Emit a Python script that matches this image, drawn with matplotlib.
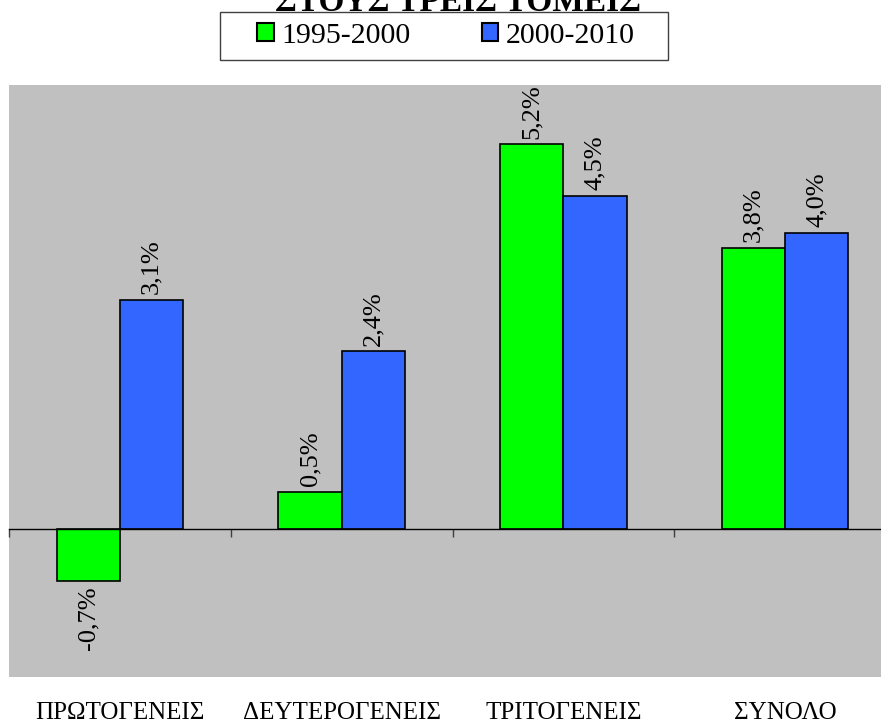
import numpy as np
import matplotlib.pyplot as plt
from matplotlib.patches import Rectangle

categories = ['ΠΡΩΤΟΓΕΝΕΙΣ', 'ΔΕΥΤΕΡΟΓΕΝΕΙΣ', 'ΤΡΙΤΟΓΕΝΕΙΣ', 'ΣΥΝΟΛΟ']
series_names = ['1995-2000', '2000-2010']
v_1995_2000 = [-0.7, 0.5, 5.2, 3.8]
v_2000_2010 = [3.1, 2.4, 4.5, 4.0]
colors = ['#00FF00', '#3366FF']

plt.rcParams['font.family'] = ['Liberation Serif', 'DejaVu Serif']

fig = plt.figure(figsize=(8.81, 7.23), dpi=100)
# plot area runs a little past the right edge of the picture
ax = fig.add_axes([9 / 881, 46 / 723, 887 / 881, 592 / 723])
ax.set_facecolor('#C0C0C0')

x = np.arange(len(categories))
w = 0.285
for i, (vals, name) in enumerate(zip([v_1995_2000, v_2000_2010], series_names)):
    pos = x + (i - 0.5) * w
    ax.bar(pos, vals, w, color=colors[i], edgecolor='black', linewidth=1.2,
           label=name, zorder=3)
    for px, v in zip(pos, vals):
        lab = f'{v:.1f}%'.replace('.', ',')
        if v >= 0:
            ax.annotate(lab, (px, v), xytext=(0, 4), textcoords='offset points',
                        rotation=90, ha='center', va='bottom', fontsize=19)
        else:
            ax.annotate(lab, (px, v), xytext=(0, -4), textcoords='offset points',
                        rotation=90, ha='center', va='top', fontsize=19)

ax.set_xlim(-0.5, len(categories) - 0.5)
ax.set_ylim(-2, 6)
for s in ['top', 'right', 'left']:
    ax.spines[s].set_visible(False)
ax.spines['bottom'].set_position(('data', 0))
ax.spines['bottom'].set_linewidth(1)
ax.spines['bottom'].set_zorder(4)
ax.set_yticks([])
ax.set_xticks(np.arange(len(categories) + 1) - 0.5)
ax.set_xticklabels([])
ax.tick_params(axis='x', direction='out', length=6, width=1, colors='#404040')

for xi, c in zip(x, categories):
    ax.text(xi, -0.06, c, transform=ax.get_xaxis_transform(), ha='center',
            va='center', fontsize=18)

# title is mostly cut off at the top in the original
fig.text(458, 723 - 11, 'ΣΤΟΥΣ ΤΡΕΙΣ ΤΟΜΕΙΣ', transform=None, ha='center',
         va='baseline', fontsize=24, fontweight='bold')

# legend box drawn separately, it is wider than the entries
fig.patches.append(Rectangle((220, 723 - 60), 448, 48, transform=None,
                             facecolor='white', edgecolor='#404040', lw=1))
leg = fig.legend(loc='center', bbox_to_anchor=(446 / 881, 1 - 36 / 723), ncol=2,
                 fontsize=21.5, frameon=False,
                 handlelength=0.55, handleheight=0.55, handletextpad=0.25,
                 columnspacing=2.4, borderpad=0.3)
for h in leg.legend_handles:
    h.set_linewidth(1.5)

fig.savefig('out.png', dpi=100)
